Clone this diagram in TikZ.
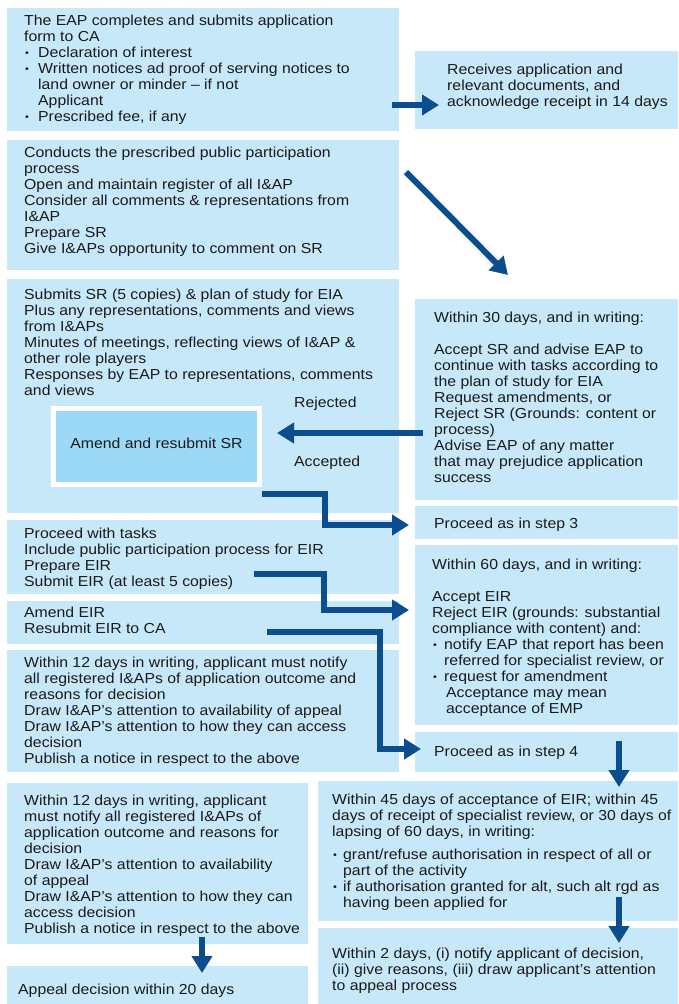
\documentclass[tikz,border=0pt]{standalone}
\usepackage{fontspec}
\setmainfont{Liberation Sans}[FakeStretch=1.09]
\usetikzlibrary{arrows.meta}
\definecolor{boxc}{HTML}{C7E8F8}
\definecolor{innerc}{HTML}{9BD9F6}
\definecolor{arrc}{HTML}{0B4D8F}
\definecolor{txtc}{HTML}{1A1A1A}
\newcommand\dotb{\raisebox{0.6pt}{\hspace*{0.8pt}\fontsize{10}{10}\selectfont•}}
\newcommand\bul{\makebox[14pt][l]{\dotb}}
\newcommand\bulb{\makebox[12pt][l]{\dotb}}
\newcommand\bulc{\makebox[11pt][l]{\dotb}}
\newcommand\st{\rule{0pt}{12pt}}
\begin{document}
\begin{tikzpicture}[x=1pt,y=-1pt,
  box/.style={fill=boxc, inner sep=0pt, anchor=north west},
  txt/.style={inner sep=0pt, anchor=north west, yshift=12pt, align=left, text=txtc,
    font=\fontsize{14.5}{16}\selectfont},
  arr/.style={draw=arrc, line width=6pt, -{Triangle[length=17pt,width=20pt]}}]
\useasboundingbox (0,0) rectangle (678,1004);
% boxes
\node[box, minimum width=392pt, minimum height=123pt] (b1) at (7,8) {};
\node[box, minimum width=263pt, minimum height=78pt] (b2) at (415,51) {};
\node[box, minimum width=392pt, minimum height=130pt] (b3) at (7,140) {};
\node[box, minimum width=392pt, minimum height=234pt] (b4) at (7,279) {};
\node[box, minimum width=263pt, minimum height=201pt] (b5) at (415,299) {};
\node[box, minimum width=263pt, minimum height=33pt] (b6) at (415,506) {};
\node[box, minimum width=392pt, minimum height=74pt] (b7) at (7,520) {};
\node[box, minimum width=392pt, minimum height=43pt] (b8) at (7,601) {};
\node[box, minimum width=392pt, minimum height=122pt] (b9) at (7,650) {};
\node[box, minimum width=263pt, minimum height=180pt] (b10) at (415,545) {};
\node[box, minimum width=263pt, minimum height=40pt] (b11) at (415,732) {};
\node[box, minimum width=301pt, minimum height=161pt] (b12) at (7,783) {};
\node[box, minimum width=360pt, minimum height=140pt] (b13) at (318,781) {};
\node[box, minimum width=301pt, minimum height=38pt] (b14) at (7,966) {};
\node[box, minimum width=360pt, minimum height=76pt] (b15) at (318,928) {};
% inner box
\node[fill=innerc, draw=white, line width=5pt, inner sep=0pt,
  minimum width=206pt, minimum height=76pt, text=txtc, text height=10.7pt, text depth=6.5pt,
  font=\fontsize{14.5}{16}\selectfont] (amend) at (156.5,446.5) {Amend and resubmit SR};
% texts
\node[txt] (t1) at (24,25) {\st The EAP completes and submits application\\
form to CA\\
\bul Declaration of interest\\
\bul Written notices ad proof of serving notices to\\
\hspace*{14pt}land owner or minder – if not\\
\hspace*{14pt}Applicant\\
\bul Prescribed fee, if any};
\node[txt] (t2) at (447,74) {\st Receives application and\\
relevant documents, and\\
acknowledge receipt in 14 days};
\node[txt] (t3) at (24,157) {\st Conducts the prescribed public participation\\
process\\
Open and maintain register of all I\&AP\\
Consider all comments \& representations from\\
I\&AP\\
Prepare SR\\
Give I\&APs opportunity to comment on SR};
\node[txt] (t4) at (24,299) {\st Submits SR (5 copies) \& plan of study for EIA\\
Plus any representations, comments and views\\
from I\&APs\\
Minutes of meetings, reflecting views of I\&AP \&\\
other role players\\
Responses by EAP to representations, comments\\
and views};
\node[txt] (t5) at (434,322) {\st Within 30 days, and in writing:\\[16pt]
Accept SR and advise EAP to\\
continue with tasks according to\\
the plan of study for EIA\\
Request amendments, or\\
Reject SR (Grounds: content or\\
process)\\
Advise EAP of any matter\\
that may prejudice application\\
success};
\node[txt] (rej) at (294,407) {\st Rejected};
\node[txt] (acc) at (294,466) {\st Accepted};
\node[txt] (t6) at (434,528) {\st Proceed as in step 3};
\node[txt] (t7) at (24,538) {\st Proceed with tasks\\
Include public participation process for EIR\\
Prepare EIR\\
Submit EIR (at least 5 copies)};
\node[txt] (t8) at (24,617) {\st Amend EIR\\
Resubmit EIR to CA};
\node[txt] (t9) at (24,667) {\st Within 12 days in writing, applicant must notify\\
all registered I\&APs of application outcome and\\
reasons for decision\\
Draw I\&AP’s attention to availability of appeal\\
Draw I\&AP’s attention to how they can access\\
decision\\
Publish a notice in respect to the above};
\node[txt] (t10) at (432,569) {\st Within 60 days, and in writing:\\[16pt]
Accept EIR\\
Reject EIR (grounds: substantial\\
compliance with content) and:\\
\bulb notify EAP that report has been\\
\hspace*{12pt}referred for specialist review, or\\
\bulb request for amendment\\
\hspace*{14pt}Acceptance may mean\\
\hspace*{14pt}acceptance of EMP};
\node[txt] (t11) at (434,756) {\st Proceed as in step 4};
\node[txt] (t12) at (24,805) {\st Within 12 days in writing, applicant\\
must notify all registered I\&APs of\\
application outcome and reasons for\\
decision\\
Draw I\&AP’s attention to availability\\
of appeal\\
Draw I\&AP’s attention to how they can\\
access decision\\
Publish a notice in respect to the above};
\node[txt] (t13) at (332,804) {\st Within 45 days of acceptance of EIR; within 45\\
days of receipt of specialist review, or 30 days of\\
lapsing of 60 days, in writing:\\[7pt]
\bulc grant/refuse authorisation in respect of all or\\
\hspace*{11pt}part of the activity\\
\bulc if authorisation granted for alt, such alt rgd as\\
\hspace*{11pt}having been applied for};
\node[txt] (t14) at (18,994) {\st Appeal decision within 20 days};
\node[txt] (t15) at (332,958) {\st Within 2 days, (i) notify applicant of decision,\\
(ii) give reasons, (iii) draw applicant’s attention\\
to appeal process};
% arrow end points
\coordinate (a1s) at (392,105);  \coordinate (a1e) at (439,105);
\coordinate (a2s) at (406,172);  \coordinate (a2e) at (508,275);
\coordinate (a3s) at (423,433);  \coordinate (a3e) at (277,433);
\coordinate (a4s) at (262,494);  \coordinate (a4e) at (409,525);
\coordinate (a5s) at (254,574);  \coordinate (a5e) at (409,610);
\coordinate (a6s) at (267,632);  \coordinate (a6e) at (421,749);
\coordinate (a7s) at (619,741);  \coordinate (a7e) at (619,787);
\coordinate (a8s) at (619,897);  \coordinate (a8e) at (619,943);
\coordinate (a9s) at (202,937);  \coordinate (a9e) at (202,973);
% arrows
\draw[arr] (a1s) -- (a1e);
\draw[arr] (a2s) -- (a2e);
\draw[arr] (a3s) -- (a3e);
\draw[arr] (a4s) -- (325,494) -- (325,525) -- (a4e);
\draw[arr] (a5s) -- (324,574) -- (324,610) -- (a5e);
\draw[arr] (a6s) -- (380,632) -- (380,749) -- (a6e);
\draw[arr] (a7s) -- (a7e);
\draw[arr] (a8s) -- (a8e);
\draw[arr] (a9s) -- (a9e);
\end{tikzpicture}
\end{document}
